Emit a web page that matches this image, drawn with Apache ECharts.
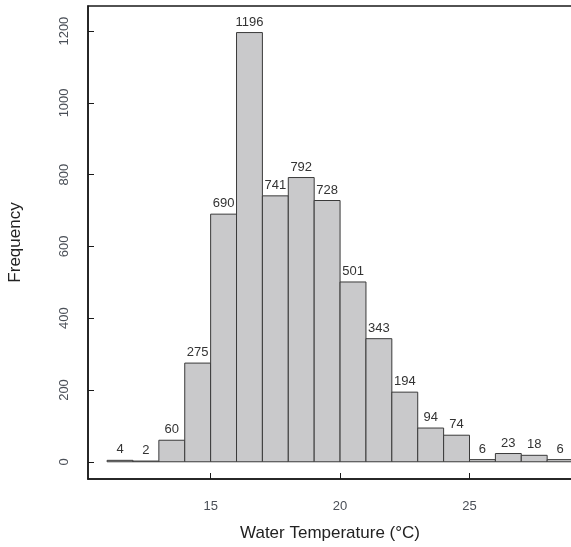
<!DOCTYPE html>
<html>
<head>
<meta charset="utf-8">
<script src="https://cdn.jsdelivr.net/npm/echarts@6/dist/echarts.min.js"></script>
<style>
html,body{margin:0;padding:0;background:#fff;}
#chart{width:571px;height:547px;}
</style>
</head>
<body>
<div id="chart"></div>
<script>
var binStarts = [11, 12, 13, 14, 15, 16, 17, 18, 19, 20, 21, 22, 23, 24, 25, 26, 27, 28];
var binEnds   = [12, 13, 14, 15, 16, 17, 18, 19, 20, 21, 22, 23, 24, 25, 26, 27, 28, 29];
var counts    = [4, 2, 60, 275, 690, 1196, 741, 792, 728, 501, 343, 194, 94, 74, 6, 23, 18, 6];
var xTicks = [15, 20, 25];
var yTicks = [0, 200, 400, 600, 800, 1000, 1200];
var xTitle = 'Water Temperature (°C)';
var yTitle = 'Frequency';

var data = binStarts.map(function (s, i) { return [s, binEnds[i], counts[i]]; });
var FONT = '"Liberation Sans", Arial, sans-serif';

var chart = echarts.init(document.getElementById('chart'));
chart.setOption({
  animation: false,
  backgroundColor: '#fff',
  grid: {
    left: 88, top: 6, width: 498, bottom: 68,
    containLabel: false, outerBoundsMode: 'none',
    show: true, borderColor: '#1a1a1a', borderWidth: 1.5, backgroundColor: 'transparent'
  },
  xAxis: {
    type: 'value', min: 10.263, max: 29.5,
    splitLine: { show: false },
    axisLine: { show: true, onZero: false, lineStyle: { color: '#1a1a1a', width: 1.5 } },
    axisTick: { show: true, inside: true, length: 6, customValues: xTicks, lineStyle: { color: '#1a1a1a', width: 1 } },
    axisLabel: { customValues: xTicks, margin: 21, fontSize: 13, color: '#4a4f57', fontFamily: FONT },
    name: xTitle, nameLocation: 'middle', nameGap: 46,
    nameTextStyle: { fontSize: 17, color: '#222', fontFamily: FONT, padding: [0, 14, 0, 0] }
  },
  yAxis: {
    type: 'value', min: -48, max: 1270,
    splitLine: { show: false },
    axisLine: { show: true, onZero: false, lineStyle: { color: '#1a1a1a', width: 1.5 } },
    axisTick: { show: true, inside: true, length: 6, customValues: yTicks, lineStyle: { color: '#1a1a1a', width: 1 } },
    axisLabel: {
      customValues: yTicks, rotate: 90, margin: 17, fontSize: 13, color: '#4a4f57', fontFamily: FONT,
      formatter: function (v) { return String(v); }
    },
    name: yTitle, nameLocation: 'middle', nameGap: 64, nameRotate: 90,
    nameTextStyle: { fontSize: 17, color: '#222', fontFamily: FONT }
  },
  series: [{
    type: 'custom',
    clip: false,
    data: data,
    encode: { x: [0, 1], y: 2 },
    renderItem: function (params, api) {
      var x0 = api.value(0), x1 = api.value(1), c = api.value(2);
      var p0 = api.coord([x0, 0]);
      var p1 = api.coord([x1, c]);
      return {
        type: 'group',
        children: [{
          type: 'rect',
          shape: { x: p0[0], y: p1[1], width: p1[0] - p0[0], height: p0[1] - p1[1] },
          style: { fill: '#c9c9cb', stroke: '#3a3a3a', lineWidth: 1 }
        }, {
          type: 'text',
          style: {
            x: (p0[0] + p1[0]) / 2, y: p1[1] - 4,
            text: String(c), textAlign: 'center', textVerticalAlign: 'bottom',
            fontSize: 13, fontFamily: FONT, fill: '#333'
          }
        }]
      };
    }
  }]
});
</script>
</body>
</html>
